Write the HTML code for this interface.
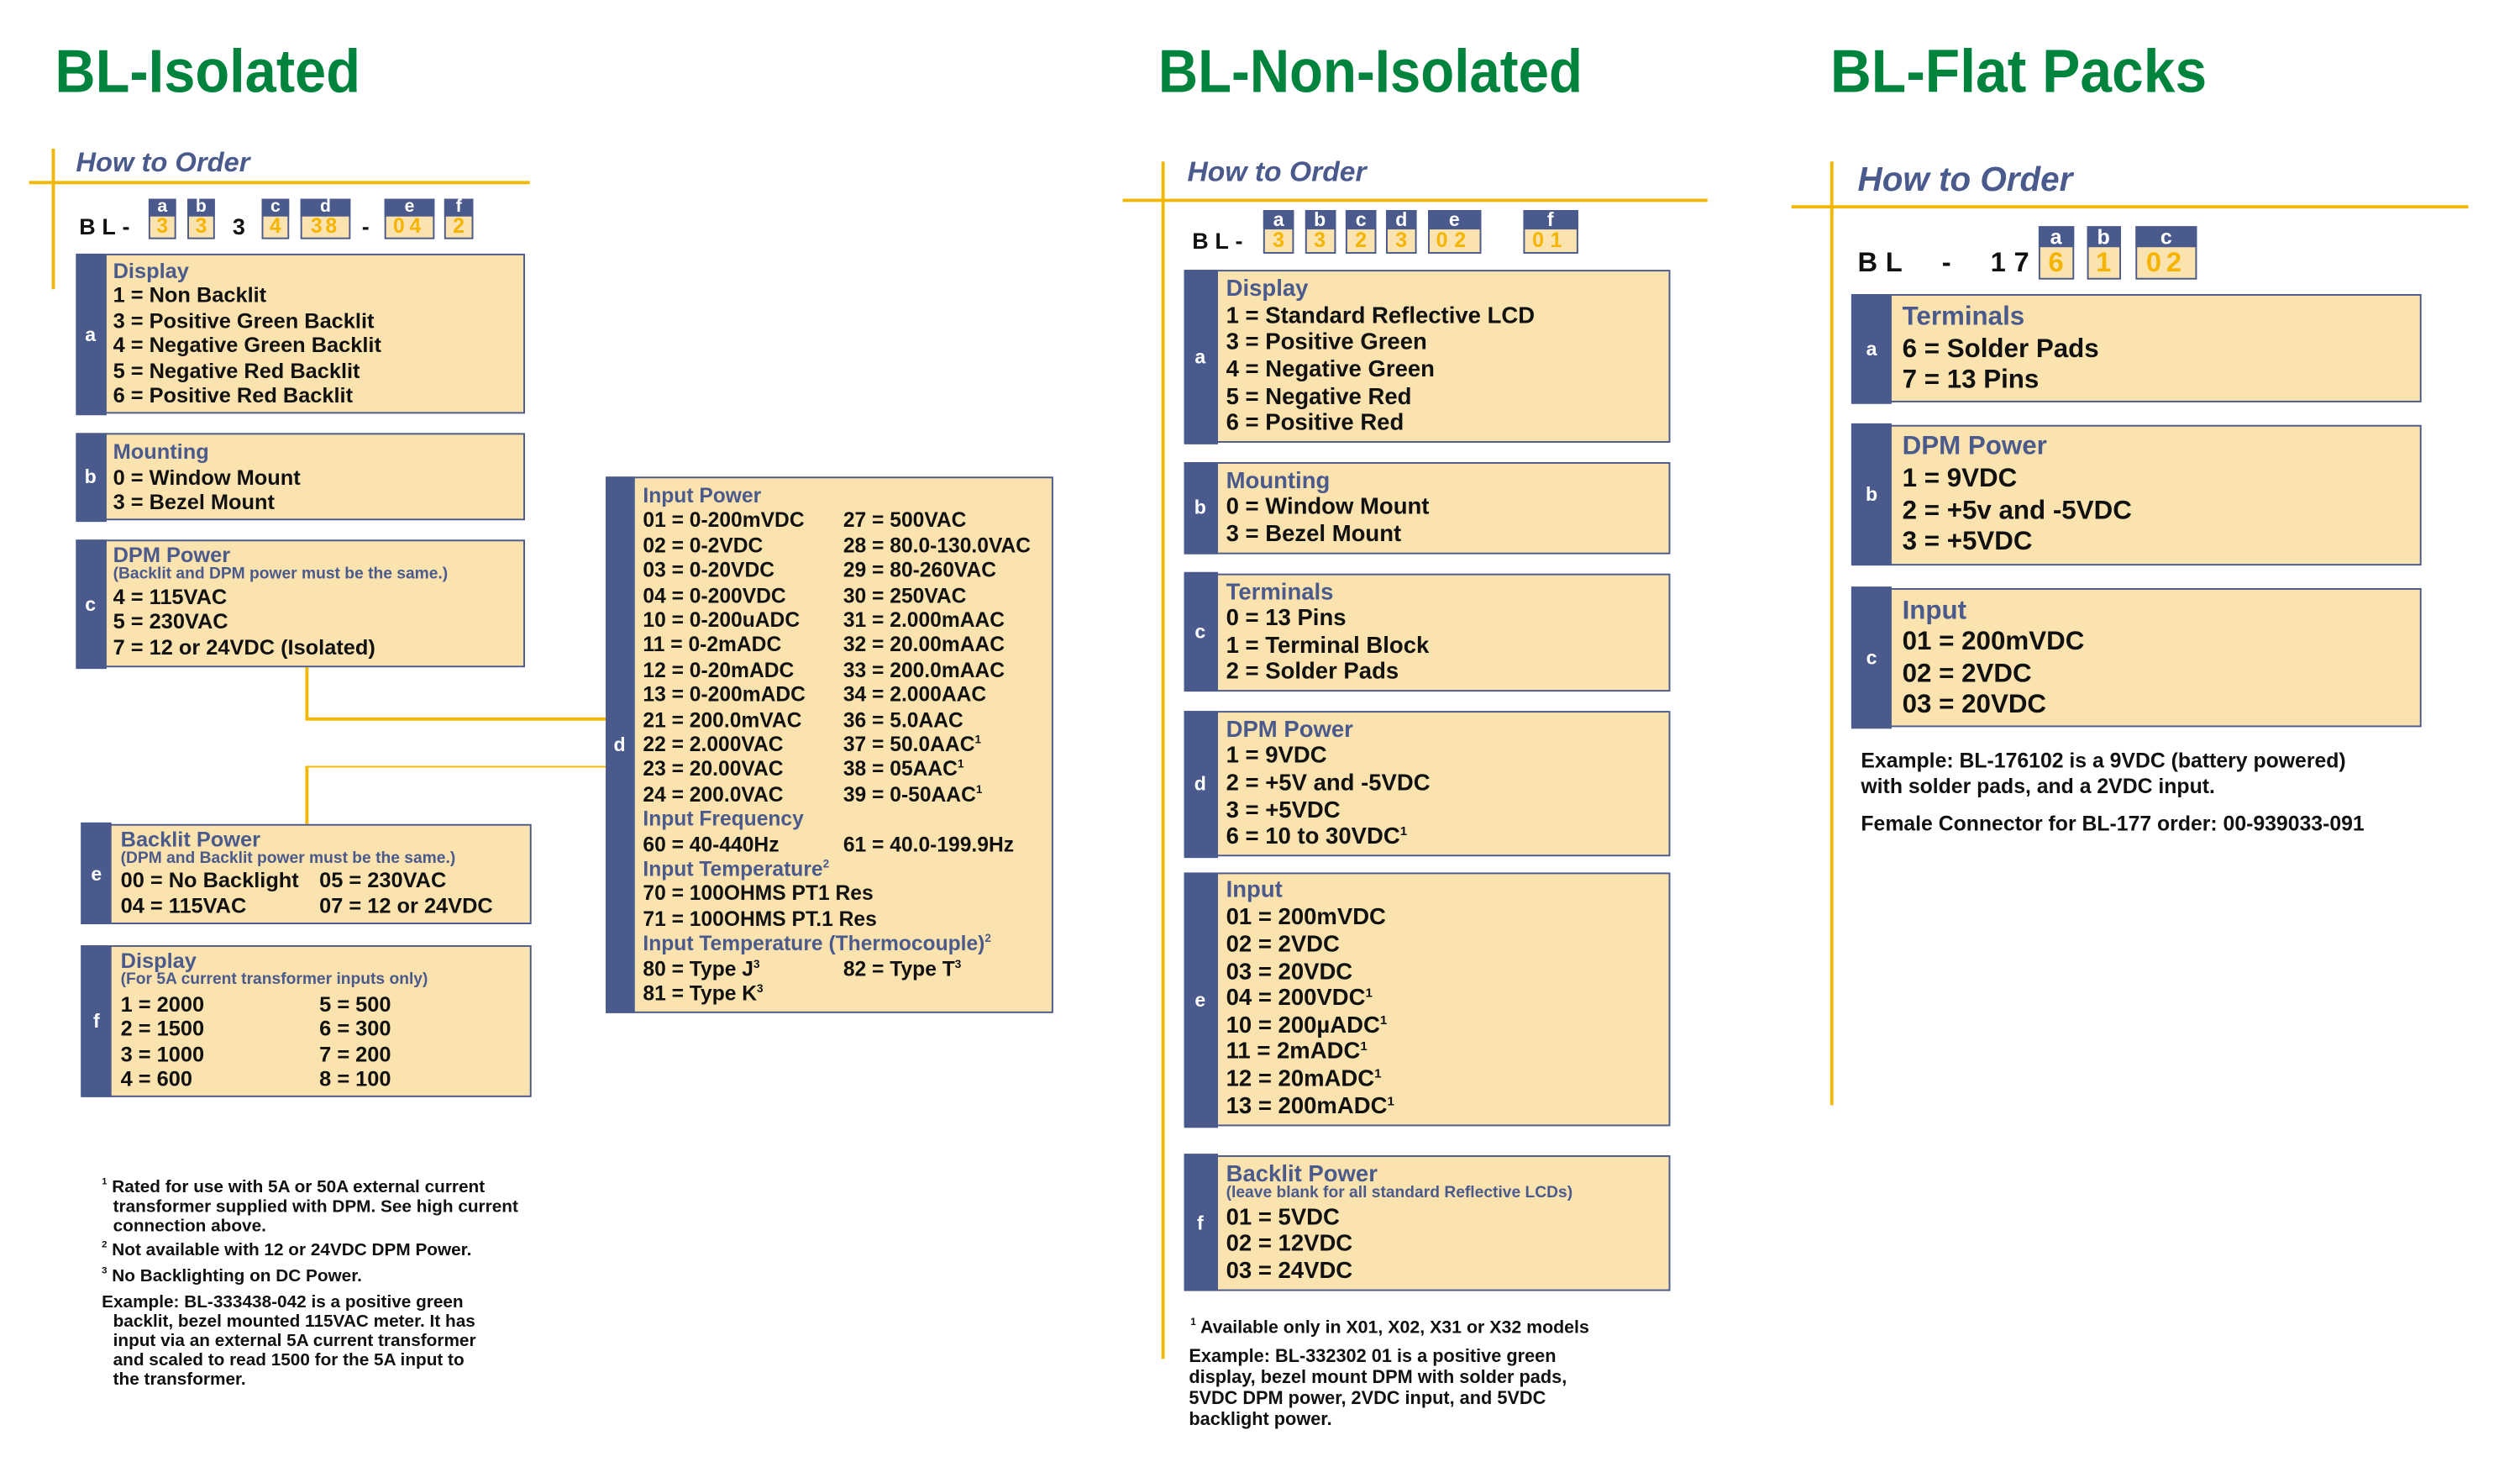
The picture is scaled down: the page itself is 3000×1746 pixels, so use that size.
<!DOCTYPE html>
<html><head><meta charset="utf-8"><style>
html,body{margin:0;padding:0;background:#fff;}
body{width:3000px;height:1746px;overflow:hidden;position:relative;}
#p{position:absolute;left:0;top:0;width:1560px;height:908px;transform:scale(1.92308);transform-origin:0 0;font-family:"Liberation Sans",Arial,sans-serif;font-weight:bold;color:#111;}
.t{position:absolute;color:#00843D;font-size:37.5px;line-height:40px;white-space:nowrap;transform-origin:0 0;}
.h{position:absolute;color:#4A5A8C;font-style:italic;white-space:nowrap;}
.yl{position:absolute;background:#F2B705;}
.b{position:absolute;background:#FBE3B0;border:1.5px solid #4A5A8C;box-sizing:border-box;}
.s{position:absolute;left:-1.5px;top:-1.5px;bottom:-1.5px;background:#4A5A8C;color:#fff;display:flex;align-items:center;justify-content:center;font-size:12px;}
.l{position:absolute;white-space:nowrap;line-height:16px;}
.n{color:#4A5A8C;}
.sub{font-size:10px;}
sup{font-size:55%;line-height:0;vertical-align:5px;}
.cb{position:absolute;box-sizing:border-box;border:1px solid #4A5A8C;background:#FBE3B0;}
.cb .ct{position:absolute;left:-1px;right:-1px;top:-1px;background:#4A5A8C;color:#fff;text-align:center;}
.cb .cv{position:absolute;left:0;right:0;bottom:0;text-align:center;color:#F5B400;}
.tx{position:absolute;white-space:nowrap;}
.fn{position:absolute;white-space:nowrap;font-size:10.8px;line-height:12px;}
</style></head><body><div id="p">

<!-- titles -->
<div class="t" style="left:34px;top:24px;transform:scaleX(.926)">BL-Isolated</div>
<div class="t" style="left:717px;top:24px;transform:scaleX(.907)">BL-Non-Isolated</div>
<div class="t" style="left:1133px;top:24px;transform:scaleX(.94)">BL-Flat Packs</div>

<!-- LEFT -->
<div class="h" style="left:47px;top:91px;font-size:17px;line-height:20px">How to Order</div>
<div class="yl" style="left:18px;top:112px;width:310px;height:2px"></div>
<div class="yl" style="left:32px;top:92px;width:2px;height:87px"></div>

<div class="tx" style="left:49px;top:132px;font-size:14px;letter-spacing:4px;line-height:16px">BL-</div>
<div class="tx" style="left:144px;top:132px;font-size:14px;line-height:16px">3</div>
<div class="tx" style="left:224px;top:132px;font-size:14px;line-height:16px">-</div>
<div class="cb" style="left:92px;top:122.5px;width:17px;height:25.5px"><div class="ct" style="height:11px;font-size:11px;line-height:11px">a</div><div class="cv" style="font-size:12.8px;line-height:14px">3</div></div>
<div class="cb" style="left:116px;top:122.5px;width:17px;height:25.5px"><div class="ct" style="height:11px;font-size:11px;line-height:11px">b</div><div class="cv" style="font-size:12.8px;line-height:14px">3</div></div>
<div class="cb" style="left:162px;top:122.5px;width:17px;height:25.5px"><div class="ct" style="height:11px;font-size:11px;line-height:11px">c</div><div class="cv" style="font-size:12.8px;line-height:14px">4</div></div>
<div class="cb" style="left:186px;top:122.5px;width:31px;height:25.5px"><div class="ct" style="height:11px;font-size:11px;line-height:11px">d</div><div class="cv" style="font-size:12.8px;line-height:14px;letter-spacing:2px">38</div></div>
<div class="cb" style="left:238px;top:122.5px;width:31px;height:25.5px"><div class="ct" style="height:11px;font-size:11px;line-height:11px">e</div><div class="cv" style="font-size:12.8px;line-height:14px;letter-spacing:3px">04</div></div>
<div class="cb" style="left:275px;top:122.5px;width:18px;height:25.5px"><div class="ct" style="height:11px;font-size:11px;line-height:11px">f</div><div class="cv" style="font-size:12.8px;line-height:14px">2</div></div>

<div style="font-size:13.2px">
<div class="b" style="left:47px;top:157px;width:277.5px;height:99px"><div class="s" style="width:19px">a</div>
<div class="l n" style="left:22px;top:2px">Display</div>
<div class="l" style="left:22px;top:17px">1 = Non Backlit</div>
<div class="l" style="left:22px;top:33px">3 = Positive Green Backlit</div>
<div class="l" style="left:22px;top:48px">4 = Negative Green Backlit</div>
<div class="l" style="left:22px;top:64px">5 = Negative Red Backlit</div>
<div class="l" style="left:22px;top:79px">6 = Positive Red Backlit</div>
</div>
<div class="b" style="left:47px;top:268px;width:277.5px;height:54px"><div class="s" style="width:19px">b</div>
<div class="l n" style="left:22px;top:3px">Mounting</div>
<div class="l" style="left:22px;top:18.5px">0 = Window Mount</div>
<div class="l" style="left:22px;top:33.6px">3 = Bezel Mount</div>
</div>
<div class="b" style="left:47px;top:334px;width:277.5px;height:79px"><div class="s" style="width:19px">c</div>
<div class="l n" style="left:22px;top:1px">DPM Power</div>
<div class="l n sub" style="left:22px;top:13px">(Backlit and DPM power must be the same.)</div>
<div class="l" style="left:22px;top:27px">4 = 115VAC</div>
<div class="l" style="left:22px;top:42px">5 = 230VAC</div>
<div class="l" style="left:22px;top:58px">7 = 12 or 24VDC (Isolated)</div>
</div>

<div class="yl" style="left:189px;top:413px;width:1.5px;height:32px"></div>
<div class="yl" style="left:189px;top:444px;width:186px;height:1.5px"></div>
<div class="yl" style="left:189px;top:473.5px;width:186px;height:1.5px"></div>
<div class="yl" style="left:189px;top:474px;width:1.5px;height:36px"></div>

<div class="b" style="left:50.7px;top:509.6px;width:278px;height:62.4px"><div class="s" style="width:19px">e</div>
<div class="l n" style="left:23px;top:1px">Backlit Power</div>
<div class="l n sub" style="left:23px;top:13px">(DPM and Backlit power must be the same.)</div>
<div class="l" style="left:23px;top:26.5px">00 = No Backlight</div>
<div class="l" style="left:146px;top:26.5px">05 = 230VAC</div>
<div class="l" style="left:23px;top:42.5px">04 = 115VAC</div>
<div class="l" style="left:146px;top:42.5px">07 = 12 or 24VDC</div>
</div>
<div class="b" style="left:50.7px;top:585px;width:278px;height:93.7px"><div class="s" style="width:19px">f</div>
<div class="l n" style="left:23px;top:1px">Display</div>
<div class="l n sub" style="left:23px;top:13px">(For 5A current transformer inputs only)</div>
<div class="l" style="left:23px;top:28px">1 = 2000</div><div class="l" style="left:146px;top:28px">5 = 500</div>
<div class="l" style="left:23px;top:43px">2 = 1500</div><div class="l" style="left:146px;top:43px">6 = 300</div>
<div class="l" style="left:23px;top:58.5px">3 = 1000</div><div class="l" style="left:146px;top:58.5px">7 = 200</div>
<div class="l" style="left:23px;top:73.8px">4 = 600</div><div class="l" style="left:146px;top:73.8px">8 = 100</div>
</div>

<div class="b" style="left:375px;top:295px;width:276.6px;height:331.6px;font-size:12.8px"><div class="s" style="width:18px">d</div>
<div class="l n" style="left:22px;top:3px">Input Power</div>
<div class="l" style="left:22px;top:18.4px">01 = 0-200mVDC</div><div class="l" style="left:146px;top:18.4px">27 = 500VAC</div>
<div class="l" style="left:22px;top:33.8px">02 = 0-2VDC</div><div class="l" style="left:146px;top:33.8px">28 = 80.0-130.0VAC</div>
<div class="l" style="left:22px;top:49.2px">03 = 0-20VDC</div><div class="l" style="left:146px;top:49.2px">29 = 80-260VAC</div>
<div class="l" style="left:22px;top:64.6px">04 = 0-200VDC</div><div class="l" style="left:146px;top:64.6px">30 = 250VAC</div>
<div class="l" style="left:22px;top:80px">10 = 0-200uADC</div><div class="l" style="left:146px;top:80px">31 = 2.000mAAC</div>
<div class="l" style="left:22px;top:95.4px">11 = 0-2mADC</div><div class="l" style="left:146px;top:95.4px">32 = 20.00mAAC</div>
<div class="l" style="left:22px;top:110.8px">12 = 0-20mADC</div><div class="l" style="left:146px;top:110.8px">33 = 200.0mAAC</div>
<div class="l" style="left:22px;top:126.2px">13 = 0-200mADC</div><div class="l" style="left:146px;top:126.2px">34 = 2.000AAC</div>
<div class="l" style="left:22px;top:141.6px">21 = 200.0mVAC</div><div class="l" style="left:146px;top:141.6px">36 = 5.0AAC</div>
<div class="l" style="left:22px;top:157px">22 = 2.000VAC</div><div class="l" style="left:146px;top:157px">37 = 50.0AAC<sup>1</sup></div>
<div class="l" style="left:22px;top:172.4px">23 = 20.00VAC</div><div class="l" style="left:146px;top:172.4px">38 = 05AAC<sup>1</sup></div>
<div class="l" style="left:22px;top:187.8px">24 = 200.0VAC</div><div class="l" style="left:146px;top:187.8px">39 = 0-50AAC<sup>1</sup></div>
<div class="l n" style="left:22px;top:203.2px">Input Frequency</div>
<div class="l" style="left:22px;top:218.6px">60 = 40-440Hz</div><div class="l" style="left:146px;top:218.6px">61 = 40.0-199.9Hz</div>
<div class="l n" style="left:22px;top:234px">Input Temperature<sup>2</sup></div>
<div class="l" style="left:22px;top:249.4px">70 = 100OHMS PT1 Res</div>
<div class="l" style="left:22px;top:264.8px">71 = 100OHMS PT.1 Res</div>
<div class="l n" style="left:22px;top:280.2px">Input Temperature (Thermocouple)<sup>2</sup></div>
<div class="l" style="left:22px;top:295.6px">80 = Type J<sup>3</sup></div><div class="l" style="left:146px;top:295.6px">82 = Type T<sup>3</sup></div>
<div class="l" style="left:22px;top:311px">81 = Type K<sup>3</sup></div>
</div>
</div>

<div class="fn" style="left:63px;top:729px"><sup>1</sup> Rated for use with 5A or 50A external current</div>
<div class="fn" style="left:70px;top:741px">transformer supplied with DPM. See high current</div>
<div class="fn" style="left:70px;top:753px">connection above.</div>
<div class="fn" style="left:63px;top:768px"><sup>2</sup> Not available with 12 or 24VDC DPM Power.</div>
<div class="fn" style="left:63px;top:784px"><sup>3</sup> No Backlighting on DC Power.</div>
<div class="fn" style="left:63px;top:800px">Example: BL-333438-042 is a positive green</div>
<div class="fn" style="left:70px;top:812px">backlit, bezel mounted 115VAC meter. It has</div>
<div class="fn" style="left:70px;top:824px">input via an external 5A current transformer</div>
<div class="fn" style="left:70px;top:836px">and scaled to read 1500 for the 5A input to</div>
<div class="fn" style="left:70px;top:848px">the transformer.</div>

<!-- MIDDLE -->
<div class="h" style="left:735px;top:96px;font-size:17.5px;line-height:21px">How to Order</div>
<div class="yl" style="left:695px;top:122.5px;width:362px;height:2px"></div>
<div class="yl" style="left:719px;top:100px;width:2px;height:741px"></div>

<div class="tx" style="left:738px;top:141px;font-size:14px;letter-spacing:4px;line-height:16px">BL-</div>
<div class="cb" style="left:782px;top:129.5px;width:19px;height:27.5px"><div class="ct" style="height:12px;font-size:12px;line-height:12px">a</div><div class="cv" style="font-size:13px;line-height:15px">3</div></div>
<div class="cb" style="left:807.5px;top:129.5px;width:19px;height:27.5px"><div class="ct" style="height:12px;font-size:12px;line-height:12px">b</div><div class="cv" style="font-size:13px;line-height:15px">3</div></div>
<div class="cb" style="left:833px;top:129.5px;width:19px;height:27.5px"><div class="ct" style="height:12px;font-size:12px;line-height:12px">c</div><div class="cv" style="font-size:13px;line-height:15px">2</div></div>
<div class="cb" style="left:858px;top:129.5px;width:19px;height:27.5px"><div class="ct" style="height:12px;font-size:12px;line-height:12px">d</div><div class="cv" style="font-size:13px;line-height:15px">3</div></div>
<div class="cb" style="left:883.5px;top:129.5px;width:33.5px;height:27.5px"><div class="ct" style="height:12px;font-size:12px;line-height:12px">e</div><div class="cv" style="font-size:13px;line-height:15px;letter-spacing:4px">02</div></div>
<div class="cb" style="left:943px;top:129.5px;width:33.5px;height:27.5px"><div class="ct" style="height:12px;font-size:12px;line-height:12px">f</div><div class="cv" style="font-size:13px;line-height:15px;letter-spacing:4px">01</div></div>

<div style="font-size:14.3px">
<div class="b" style="left:733px;top:167px;width:300.6px;height:107px"><div class="s" style="width:21px">a</div>
<div class="l n" style="left:25px;top:3px">Display</div>
<div class="l" style="left:25px;top:19.5px">1 = Standard Reflective LCD</div>
<div class="l" style="left:25px;top:36px">3 = Positive Green</div>
<div class="l" style="left:25px;top:53px">4 = Negative Green</div>
<div class="l" style="left:25px;top:69.6px">5 = Negative Red</div>
<div class="l" style="left:25px;top:86px">6 = Positive Red</div>
</div>
<div class="b" style="left:733px;top:286px;width:300.6px;height:56.6px"><div class="s" style="width:21px">b</div>
<div class="l n" style="left:25px;top:2.5px">Mounting</div>
<div class="l" style="left:25px;top:19px">0 = Window Mount</div>
<div class="l" style="left:25px;top:35.7px">3 = Bezel Mount</div>
</div>
<div class="b" style="left:733px;top:354.7px;width:300.6px;height:73.3px"><div class="s" style="width:21px">c</div>
<div class="l n" style="left:25px;top:3px">Terminals</div>
<div class="l" style="left:25px;top:19.3px">0 = 13 Pins</div>
<div class="l" style="left:25px;top:36.3px">1 = Terminal Block</div>
<div class="l" style="left:25px;top:52.8px">2 = Solder Pads</div>
</div>
<div class="b" style="left:733px;top:440px;width:300.6px;height:90px"><div class="s" style="width:21px">d</div>
<div class="l n" style="left:25px;top:3px">DPM Power</div>
<div class="l" style="left:25px;top:19px">1 = 9VDC</div>
<div class="l" style="left:25px;top:36px">2 = +5V and -5VDC</div>
<div class="l" style="left:25px;top:52.5px">3 = +5VDC</div>
<div class="l" style="left:25px;top:69px">6 = 10 to 30VDC<sup>1</sup></div>
</div>
<div class="b" style="left:733px;top:540px;width:300.6px;height:157px"><div class="s" style="width:21px">e</div>
<div class="l n" style="left:25px;top:2px">Input</div>
<div class="l" style="left:25px;top:19px">01 = 200mVDC</div>
<div class="l" style="left:25px;top:35.7px">02 = 2VDC</div>
<div class="l" style="left:25px;top:52.7px">03 = 20VDC</div>
<div class="l" style="left:25px;top:69px">04 = 200VDC<sup>1</sup></div>
<div class="l" style="left:25px;top:86px">10 = 200µADC<sup>1</sup></div>
<div class="l" style="left:25px;top:102.4px">11 = 2mADC<sup>1</sup></div>
<div class="l" style="left:25px;top:119px">12 = 20mADC<sup>1</sup></div>
<div class="l" style="left:25px;top:136px">13 = 200mADC<sup>1</sup></div>
</div>
<div class="b" style="left:733px;top:714.5px;width:300.6px;height:84.3px"><div class="s" style="width:21px">f</div>
<div class="l n" style="left:25px;top:3px">Backlit Power</div>
<div class="l n sub" style="left:25px;top:15px">(leave blank for all standard Reflective LCDs)</div>
<div class="l" style="left:25px;top:30px">01 = 5VDC</div>
<div class="l" style="left:25px;top:46.5px">02 = 12VDC</div>
<div class="l" style="left:25px;top:63.3px">03 = 24VDC</div>
</div>
</div>

<div class="fn" style="left:737px;top:816px;font-size:11.1px"><sup>1</sup> Available only in X01, X02, X31 or X32 models</div>
<div class="fn" style="left:736px;top:834px;font-size:11.3px;line-height:13px">Example: BL-332302 01 is a positive green<br>display, bezel mount DPM with solder pads,<br>5VDC DPM power, 2VDC input, and 5VDC<br>backlight power.</div>

<!-- RIGHT -->
<div class="h" style="left:1150px;top:99px;font-size:21px;line-height:25px">How to Order</div>
<div class="yl" style="left:1109px;top:126.5px;width:419px;height:2px"></div>
<div class="yl" style="left:1133px;top:100px;width:2px;height:584px"></div>

<div class="tx" style="left:1150px;top:152px;font-size:17px;letter-spacing:5px;line-height:22px">BL&nbsp;&nbsp;-&nbsp;&nbsp;17</div>
<div class="cb" style="left:1261.5px;top:140.4px;width:22.5px;height:32.3px"><div class="ct" style="height:13px;font-size:13px;line-height:13px">a</div><div class="cv" style="font-size:17px;line-height:19px">6</div></div>
<div class="cb" style="left:1291.7px;top:140.4px;width:21px;height:32.3px"><div class="ct" style="height:13px;font-size:13px;line-height:13px">b</div><div class="cv" style="font-size:17px;line-height:19px">1</div></div>
<div class="cb" style="left:1322px;top:140.4px;width:38px;height:32.3px"><div class="ct" style="height:13px;font-size:13px;line-height:13px">c</div><div class="cv" style="font-size:17px;line-height:19px;letter-spacing:3px">02</div></div>

<div style="font-size:16.3px">
<div class="b" style="left:1146.6px;top:182px;width:352px;height:67px"><div class="s" style="width:25px">a</div>
<div class="l n" style="left:30px;top:3px;line-height:20px">Terminals</div>
<div class="l" style="left:30px;top:22.5px;line-height:20px">6 = Solder Pads</div>
<div class="l" style="left:30px;top:42px;line-height:20px">7 = 13 Pins</div>
</div>
<div class="b" style="left:1146.6px;top:262.6px;width:352px;height:87px"><div class="s" style="width:25px">b</div>
<div class="l n" style="left:30px;top:2.4px;line-height:20px">DPM Power</div>
<div class="l" style="left:30px;top:22px;line-height:20px">1 = 9VDC</div>
<div class="l" style="left:30px;top:42.4px;line-height:20px">2 = +5v and -5VDC</div>
<div class="l" style="left:30px;top:61.4px;line-height:20px">3 = +5VDC</div>
</div>
<div class="b" style="left:1146.6px;top:363.5px;width:352px;height:86.5px"><div class="s" style="width:25px">c</div>
<div class="l n" style="left:30px;top:3px;line-height:20px">Input</div>
<div class="l" style="left:30px;top:22.5px;line-height:20px">01 = 200mVDC</div>
<div class="l" style="left:30px;top:42px;line-height:20px">02 = 2VDC</div>
<div class="l" style="left:30px;top:61.5px;line-height:20px">03 = 20VDC</div>
</div>
</div>

<div class="fn" style="left:1152px;top:463px;font-size:12.9px;line-height:16px">Example: BL-176102 is a 9VDC (battery powered)<br>with solder pads, and a 2VDC input.</div>
<div class="fn" style="left:1152px;top:502px;font-size:12.9px;line-height:16px">Female Connector for BL-177 order: 00-939033-091</div>

</div></body></html>
